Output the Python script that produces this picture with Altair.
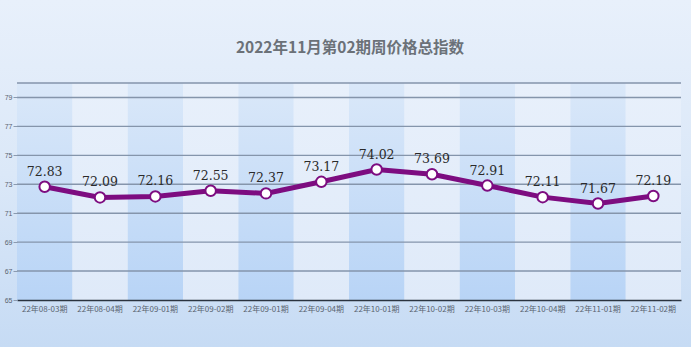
import json
import altair as alt
import pandas as pd

periods = ["22年08-03期", "22年08-04期", "22年09-01期", "22年09-02期", "22年09-01期", "22年09-04期",
           "22年10-01期", "22年10-02期", "22年10-03期", "22年10-04期", "22年11-01期", "22年11-02期"]
values = [72.83, 72.09, 72.16, 72.55, 72.37, 73.17, 74.02, 73.69, 72.91, 72.11, 71.67, 72.19]
y_ticks = [65, 67, 69, 71, 73, 75, 77, 79]
grid_levels = [67, 69, 71, 73, 75, 77, 79, 80]
title_text = "2022年11月第02期周价格总指数"

df = pd.DataFrame({"idx": list(range(len(periods))), "period": periods, "value": values})
df["label"] = df["value"].map(lambda v: f"{v:.2f}")
df["odd"] = df["idx"] % 2
grid_df = pd.DataFrame({"level": grid_levels})

W, H = 664, 217
PL, PT, PR, PB = 17, 83, 10, 47

label_expr = json.dumps(periods) + "[datum.value]"

x_enc = alt.X("idx:O", scale=alt.Scale(paddingInner=0, paddingOuter=0),
              axis=alt.Axis(title=None, labelExpr=label_expr, labelAngle=0, ticks=False,
                            domainColor="#2b3440", domainWidth=1.5, labelFontSize=8,
                            labelFont="Noto Sans CJK SC", labelColor="#5a6470", labelPadding=5,
                            labelOverlap=False, zindex=1))
y_scale = alt.Scale(domain=[65, 80], nice=False, zero=False)
y_axis = alt.Axis(title=None, values=y_ticks, grid=False, domain=False, tickColor="#8b9bb0",
                  tickSize=4, labelFontSize=7, labelColor="#5a6470", labelPadding=1,
                  labelOverlap=False, labelFlush=False, zindex=1)

bg = alt.Chart(alt.Data(values=[{"a": 1}])).mark_rect(
    clip=False,
    color=alt.Gradient(gradient="linear", x1=0, y1=0, x2=0, y2=1,
                       stops=[alt.GradientStop(color="#e8f0fb", offset=0),
                              alt.GradientStop(color="#dbe8f8", offset=0.5),
                              alt.GradientStop(color="#c6dbf4", offset=1)])
).encode(x=alt.value(-PL), x2=alt.value(W + PR), y=alt.value(-PT), y2=alt.value(H + PB))

title = alt.Chart(alt.Data(values=[{"t": title_text}])).mark_text(
    font="Noto Sans CJK SC", fontSize=15.5, fontWeight="bold", color="#6b7178", baseline="middle"
).encode(x=alt.value(W / 2 + 1), y=alt.value(-35), text="t:N")

band_dark = alt.Chart(df).transform_filter("datum.odd == 0").mark_rect(
    color=alt.Gradient(gradient="linear", x1=0, y1=0, x2=0, y2=1,
                       stops=[alt.GradientStop(color="#dae8f9", offset=0),
                              alt.GradientStop(color="#b8d4f6", offset=1)])
).encode(x=x_enc, y=alt.value(0), y2=alt.value(H))

band_light = alt.Chart(df).transform_filter("datum.odd == 1").mark_rect(
    color=alt.Gradient(gradient="linear", x1=0, y1=0, x2=0, y2=1,
                       stops=[alt.GradientStop(color="#e8f0fb", offset=0),
                              alt.GradientStop(color="#dfeaf9", offset=1)])
).encode(x=x_enc, y=alt.value(0), y2=alt.value(H))

grid = alt.Chart(grid_df).mark_rule(color="#8595ab", strokeWidth=1.4).encode(
    y=alt.Y("level:Q", scale=y_scale, axis=y_axis))

line = alt.Chart(df).mark_line(color="#7d0c80", strokeWidth=5).encode(
    x=x_enc, y=alt.Y("value:Q", scale=y_scale, axis=y_axis))

pts = alt.Chart(df).mark_point(shape="circle", filled=False, fill="white", fillOpacity=1,
                               stroke="#7d0c80", strokeWidth=2, size=110, opacity=1).encode(
    x=x_enc, y=alt.Y("value:Q", scale=y_scale, axis=y_axis))

txt = alt.Chart(df).mark_text(dy=-15, font="DejaVu Serif", fontSize=12.5, color="#2a2a2a").encode(
    x=x_enc, y=alt.Y("value:Q", scale=y_scale, axis=y_axis), text="label:N")

chart = alt.layer(bg, title, band_dark, band_light, grid, line, pts, txt).properties(
    width=W, height=H,
    autosize=alt.AutoSizeParams(type="none"),
    padding={"left": PL, "top": PT, "right": PR, "bottom": PB},
).configure_view(stroke=None).configure_axis(labelOverlap=False).configure(background="#dce8f8")

chart.save("out.html", embed_options={"renderer": "svg", "actions": False})
